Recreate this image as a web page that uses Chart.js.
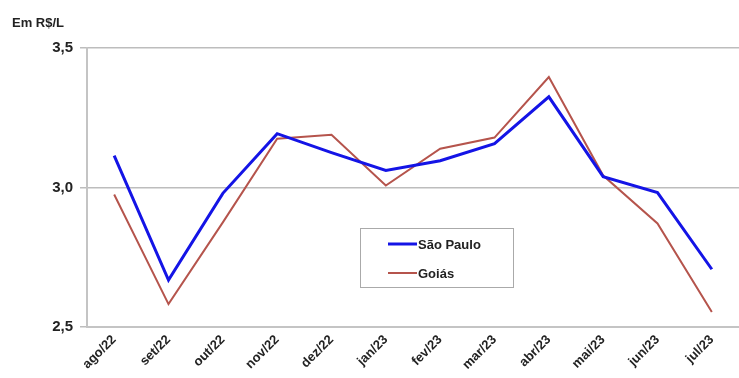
<!DOCTYPE html>
<html>
<head>
<meta charset="utf-8">
<script src="https://cdn.jsdelivr.net/npm/chart.js@4/dist/chart.umd.min.js"></script>
<style>
  html, body { margin: 0; padding: 0; background: #fff; }
  #wrap { width: 739px; height: 378px; position: relative; }
</style>
</head>
<body>
<div id="wrap"><canvas id="c" width="739" height="378"></canvas></div>
<script>
const categories = ["ago/22","set/22","out/22","nov/22","dez/22","jan/23","fev/23","mar/23","abr/23","mai/23","jun/23","jul/23"];
const saoPaulo = [3.114, 2.668, 2.979, 3.193, 3.125, 3.061, 3.096, 3.157, 3.325, 3.039, 2.982, 2.707];
const goias    = [2.975, 2.582, 2.875, 3.175, 3.189, 3.007, 3.139, 3.179, 3.396, 3.043, 2.871, 2.554];
const yTicks   = [2.5, 3.0, 3.5];
const unitLabel = "Em R$/L";

const FONT = "'Liberation Sans', Arial, sans-serif";

const extras = {
  id: 'extras',
  afterDraw(chart) {
    const ctx = chart.ctx;
    ctx.save();
    // unit label
    ctx.fillStyle = '#222';
    ctx.font = 'bold 13px ' + FONT;
    ctx.textBaseline = 'middle';
    ctx.textAlign = 'left';
    ctx.fillText(unitLabel, 12, 23);
    // legend box
    const bx = 360.5, by = 228.5, bw = 153, bh = 59;
    ctx.fillStyle = '#fff';
    ctx.fillRect(bx, by, bw, bh);
    ctx.strokeStyle = '#aaa';
    ctx.lineWidth = 1;
    ctx.strokeRect(bx, by, bw, bh);
    const rows = [244, 273];
    chart.data.datasets.forEach((ds, i) => {
      const y = rows[i];
      ctx.strokeStyle = ds.borderColor;
      ctx.lineWidth = ds.borderWidth;
      ctx.beginPath();
      ctx.moveTo(388, y);
      ctx.lineTo(417, y);
      ctx.stroke();
      ctx.fillStyle = '#222';
      ctx.font = 'bold 13px ' + FONT;
      ctx.textBaseline = 'middle';
      ctx.fillText(ds.label, 418, y + 1);
    });
    ctx.restore();
  }
};

new Chart(document.getElementById('c'), {
  type: 'line',
  data: {
    labels: categories,
    datasets: [
      { label: 'São Paulo', data: saoPaulo, borderColor: '#1414e6', borderWidth: 3, pointRadius: 0, tension: 0, fill: false },
      { label: 'Goiás', data: goias, borderColor: '#b5544c', borderWidth: 2, pointRadius: 0, tension: 0, fill: false }
    ]
  },
  options: {
    responsive: false,
    animation: false,
    devicePixelRatio: 1,
    layout: { padding: { left: 0, right: 0, top: 48, bottom: 0 } },
    plugins: {
      legend: { display: false },
      title: { display: false },
      tooltip: { enabled: false }
    },
    scales: {
      x: {
        offset: true,
        grid: { display: false, drawTicks: false },
        border: { display: true, color: '#c4c4c4', width: 2 },
        ticks: {
          color: '#222',
          font: { family: FONT, size: 13, weight: 'bold' },
          maxRotation: 45, minRotation: 45, autoSkip: false, padding: 5
        },
        afterFit(s) { s.height = 51; }
      },
      y: {
        min: 2.5, max: 3.5,
        afterBuildTicks(s) { s.ticks = yTicks.map(v => ({ value: v })); },
        grid: { color: '#bdbdbd', lineWidth: 1.5, tickLength: 7, drawTicks: true },
        border: { display: true, color: '#c4c4c4', width: 2 },
        ticks: {
          color: '#222',
          font: { family: FONT, size: 15, weight: 'bold' },
          padding: 7,
          callback: v => v.toFixed(1).replace('.', ',')
        },
        afterFit(s) { s.width = 87; }
      }
    }
  },
  plugins: [extras]
});
</script>
</body>
</html>
